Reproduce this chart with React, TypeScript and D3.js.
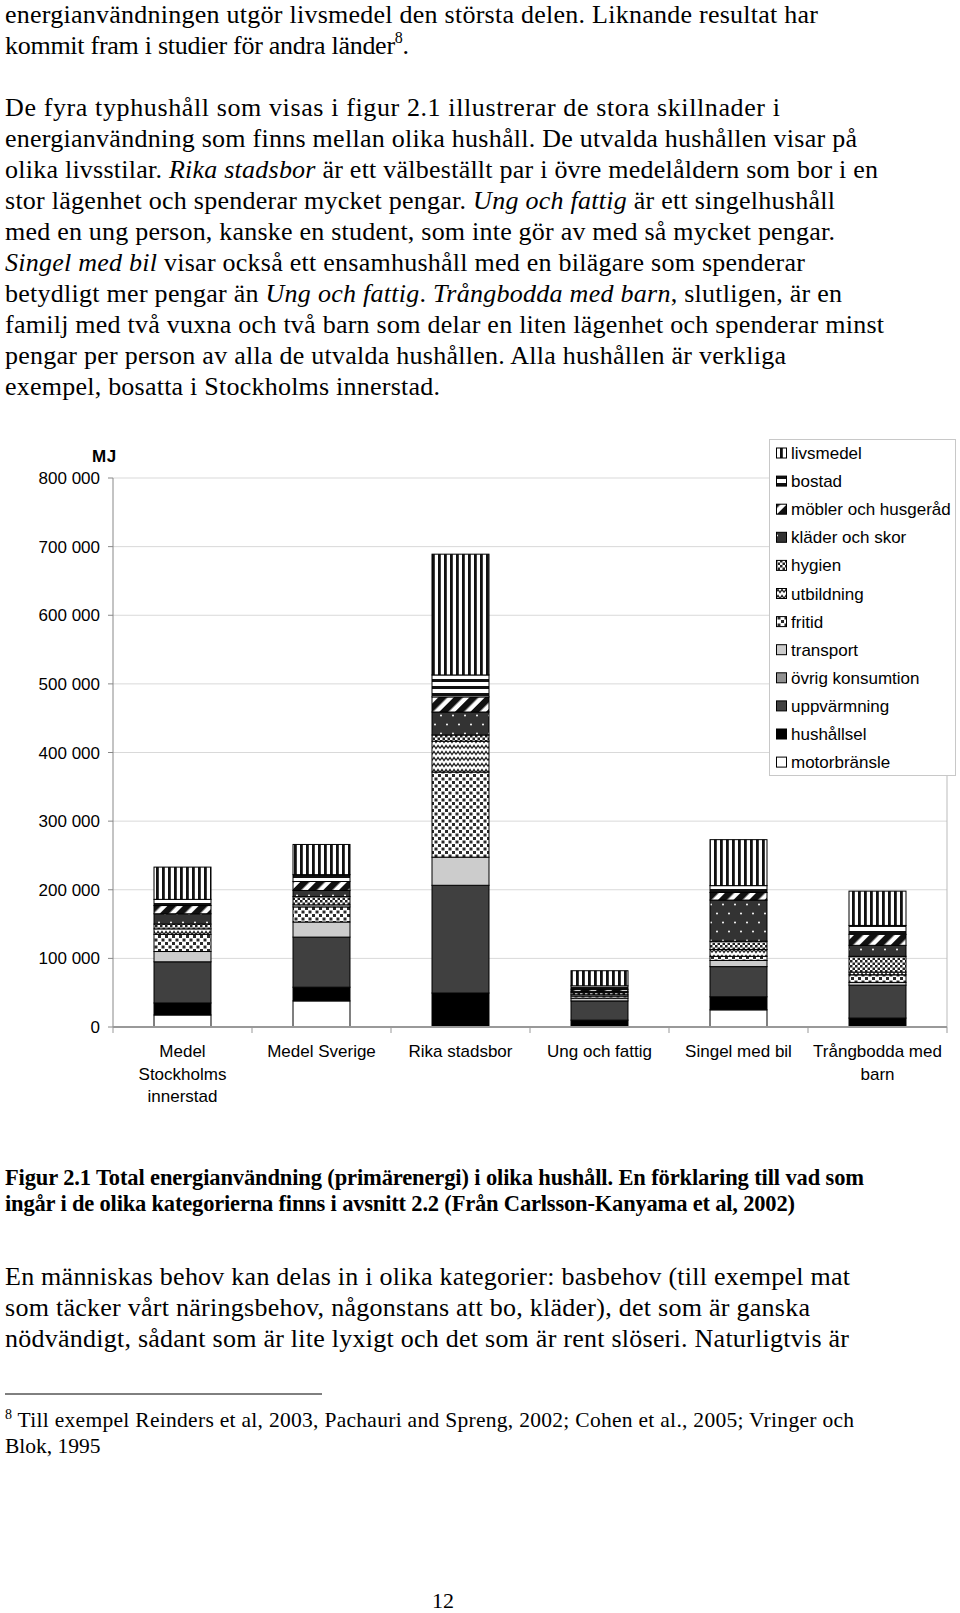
import React from "react"
import * as d3 from "d3"

// households (x categories) and their axis labels
const households = ["Medel Stockholms innerstad", "Medel Sverige", "Rika stadsbor", "Ung och fattig", "Singel med bil", "Trångbodda med barn"]
const householdLabels = [["Medel", "Stockholms", "innerstad"], ["Medel Sverige"], ["Rika stadsbor"], ["Ung och fattig"], ["Singel med bil"], ["Trångbodda med", "barn"]]

// stacking order, bottom -> top
const categories = ["motorbränsle", "hushållsel", "uppvärmning", "övrig konsumtion", "transport", "fritid", "utbildning", "hygien", "kläder och skor", "möbler och husgeråd", "bostad", "livsmedel"]

// MJ per household
const motorbransle = [17500, 38000, 0, 0, 25000, 0]
const hushallsel = [17500, 20000, 49500, 10000, 19000, 13000]
const uppvarmning = [60000, 73000, 157000, 28000, 44000, 48000]
const ovrigKonsumtion = [0, 0, 0, 0, 0, 0]
const transport = [15000, 22000, 41000, 4000, 9000, 4000]
const fritid = [25000, 22000, 124000, 3000, 6000, 11000]
const utbildning = [8000, 3000, 45000, 2000, 10000, 4000]
const hygien = [7000, 12000, 9000, 3000, 12000, 23000]
const kladerOchSkor = [15000, 9000, 33500, 2000, 60000, 16000]
const moblerOchHusgerad = [12000, 13000, 22000, 3000, 11000, 16000]
const bostad = [9000, 10000, 32000, 5000, 10000, 13000]
const livsmedel = [47000, 44000, 176000, 22000, 67000, 50000]

const yTicks = [0, 100000, 200000, 300000, 400000, 500000, 600000, 700000, 800000]

const seriesValues = [motorbransle, hushallsel, uppvarmning, ovrigKonsumtion, transport, fritid, utbildning, hygien, kladerOchSkor, moblerOchHusgerad, bostad, livsmedel]

const fills = {
  "motorbränsle": "#ffffff",
  "hushållsel": "#000000",
  "uppvärmning": "#404040",
  "övrig konsumtion": "#909090",
  "transport": "#cccccc",
  "fritid": "url(#p-fritid)",
  "utbildning": "url(#p-utb)",
  "hygien": "url(#p-hyg)",
  "kläder och skor": "url(#p-klad)",
  "möbler och husgeråd": "url(#p-mob)",
  "bostad": "url(#p-bost)",
  "livsmedel": "url(#p-livs)",
}

// page text, _..._ marks italics
const bodyLines = [
  ["energianvändningen utgör livsmedel den största delen. Liknande resultat har", 818],
  null,
  null,
  ["De fyra typhushåll som visas i figur 2.1 illustrerar de stora skillnader i", 780],
  ["energianvändning som finns mellan olika hushåll. De utvalda hushållen visar på", 857],
  ["olika livsstilar. _Rika stadsbor_ är ett välbeställt par i övre medelåldern som bor i en", 878],
  ["stor lägenhet och spenderar mycket pengar. _Ung och fattig_ är ett singelhushåll", 835],
  ["med en ung person, kanske en student, som inte gör av med så mycket pengar.", 835],
  ["_Singel med bil_ visar också ett ensamhushåll med en bilägare som spenderar", 805],
  ["betydligt mer pengar än _Ung och fattig_. _Trångbodda med barn_, slutligen, är en", 842],
  ["familj med två vuxna och två barn som delar en liten lägenhet och spenderar minst", 884],
  ["pengar per person av alla de utvalda hushållen. Alla hushållen är verkliga", 786],
  ["exempel, bosatta i Stockholms innerstad.", 440],
]
const captionLines = [
  ["Figur 2.1 Total energianvändning (primärenergi) i olika hushåll. En förklaring till vad som", 864],
  ["ingår i de olika kategorierna finns i avsnitt 2.2 (Från Carlsson-Kanyama et al, 2002)", 795],
]
const paraLines = [
  ["En människas behov kan delas in i olika kategorier: basbehov (till exempel mat", 850],
  ["som täcker vårt näringsbehov, någonstans att bo, kläder), det som är ganska", 810],
  ["nödvändigt, sådant som är lite lyxigt och det som är rent slöseri. Naturligtvis är", 849],
]

const margin = { left: 113, right: 947, top: 478, bottom: 1027 }

function Styled({ text }) {
  const parts = text.split("_")
  return parts.map((p, i) => (
    <tspan key={i} fontStyle={i % 2 === 1 ? "italic" : "normal"}>{p}</tspan>
  ))
}

export default function App() {
  const rows = households.map((h, i) => {
    const r = { household: h }
    categories.forEach((c, k) => { r[c] = seriesValues[k][i] })
    return r
  })
  const stacked = d3.stack().keys(categories)(rows)

  const x = d3.scaleBand()
    .domain(households)
    .range([margin.left, margin.right])
    .paddingInner(0.59)
    .paddingOuter(0.295)
  const y = d3.scaleLinear().domain([0, 800000]).range([margin.bottom, margin.top])
  const step = x.step()
  const fmt = (v) => d3.format(",")(v).replace(/,/g, " ")

  const serif = "'Liberation Serif', 'Times New Roman', serif"
  const sans = "'Liberation Sans', Arial, sans-serif"

  return (
    <svg width={960} height={1613} style={{ position: "absolute", left: 0, top: 0, background: "#fff" }}>
      <defs>
        <pattern id="p-livs" width={6} height={6} patternUnits="userSpaceOnUse">
          <rect width={6} height={6} fill="#fff" />
          <rect width={2.8} height={6} fill="#111" />
        </pattern>
        <pattern id="p-bost" width={6} height={7} patternUnits="userSpaceOnUse">
          <rect width={6} height={7} fill="#fff" />
          <rect width={6} height={3} fill="#111" />
        </pattern>
        <pattern id="p-mob" width={11} height={11} patternUnits="userSpaceOnUse" patternTransform="rotate(45)">
          <rect width={11} height={11} fill="#fff" />
          <rect width={6.5} height={11} fill="#111" />
        </pattern>
        <pattern id="p-klad" width={12} height={18} patternUnits="userSpaceOnUse">
          <rect width={12} height={18} fill="#333" />
          <circle cx={3} cy={4.5} r={1} fill="#fff" />
          <circle cx={9} cy={13.5} r={1} fill="#fff" />
        </pattern>
        <pattern id="p-hyg" width={5} height={5} patternUnits="userSpaceOnUse">
          <rect width={5} height={5} fill="#fff" />
          <rect width={2.5} height={2.5} fill="#222" />
          <rect x={2.5} y={2.5} width={2.5} height={2.5} fill="#222" />
        </pattern>
        <pattern id="p-utb" width={8} height={6} patternUnits="userSpaceOnUse">
          <rect width={8} height={6} fill="#fff" />
          <path d="M0,4.5 L2,1.5 L4,4.5 L6,1.5 L8,4.5" stroke="#222" strokeWidth={1.3} fill="none" />
        </pattern>
        <pattern id="p-fritid" width={7} height={7} patternUnits="userSpaceOnUse">
          <rect width={7} height={7} fill="#fff" />
          <rect x={0.5} y={0.5} width={3} height={3} fill="#2a2a2a" />
          <rect x={4} y={4} width={3} height={3} fill="#2a2a2a" />
        </pattern>
      </defs>

      {/* page text */}
      <g fontFamily={serif} fontSize={26} fill="#000">
        {bodyLines.map((l, i) => {
          const yy = 23 + i * 31
          if (i === 1) {
            return (
              <text key={i} x={5} y={yy} textLength={404} lengthAdjust="spacing">
                kommit fram i studier för andra länder<tspan fontSize={16} dy={-11}>8</tspan><tspan dy={11}>.</tspan>
              </text>
            )
          }
          if (!l) return null
          return (
            <text key={i} x={5} y={yy} textLength={l[1] - 5} lengthAdjust="spacing">
              <Styled text={l[0]} />
            </text>
          )
        })}
        {captionLines.map((l, i) => (
          <text key={"c" + i} x={5} y={1185 + i * 26} fontSize={22.5} fontWeight="bold" textLength={l[1] - 5} lengthAdjust="spacing">{l[0]}</text>
        ))}
        {paraLines.map((l, i) => (
          <text key={"p" + i} x={5} y={1285 + i * 31} textLength={l[1] - 5} lengthAdjust="spacing">{l[0]}</text>
        ))}
        <line x1={5} x2={322} y1={1394} y2={1394} stroke="#000" strokeWidth={1} />
        <text x={5} y={1427} fontSize={21.5} textLength={849} lengthAdjust="spacing">
          <tspan fontSize={14} dy={-8}>8</tspan><tspan dy={8}> Till exempel Reinders et al, 2003, Pachauri and Spreng, 2002; Cohen et al., 2005; Vringer och</tspan>
        </text>
        <text x={5} y={1453} fontSize={21.5}>Blok, 1995</text>
        <text x={443} y={1608} fontSize={22} textAnchor="middle">12</text>
      </g>

      {/* chart */}
      <g fontFamily={sans} fontSize={17} fill="#000">
        {yTicks.filter(t => t > 0).map(t => (
          <line key={t} x1={margin.left} x2={margin.right} y1={y(t)} y2={y(t)} stroke="#d9d9d9" />
        ))}
        <line x1={margin.right} x2={margin.right} y1={margin.top} y2={margin.bottom} stroke="#bbb" />
        <line x1={margin.left} x2={margin.left} y1={margin.top} y2={margin.bottom} stroke="#888" />
        {yTicks.map(t => (
          <g key={t}>
            <line x1={margin.left - 5} x2={margin.left} y1={y(t)} y2={y(t)} stroke="#888" />
            <text x={100} y={y(t) + 6} textAnchor="end">{fmt(t)}</text>
          </g>
        ))}
        <text x={92} y={462} fontWeight="bold" letterSpacing={0.5}>MJ</text>

        {stacked.map(s => (
          <g key={s.key}>
            {s.map((d, i) => {
              if (d[1] - d[0] <= 0) return null
              return (
                <rect key={i} x={x(households[i])} y={y(d[1])} width={x.bandwidth()} height={y(d[0]) - y(d[1])}
                  fill={fills[s.key]} stroke="#000" strokeWidth={1} />
              )
            })}
          </g>
        ))}

        <line x1={margin.left} x2={margin.right} y1={margin.bottom} y2={margin.bottom} stroke="#999" strokeWidth={2} />
        {households.map((h, i) => {
          const left = x(h) + x.bandwidth() / 2 - step / 2
          return <line key={"t" + i} x1={left} x2={left} y1={margin.bottom} y2={margin.bottom + 6} stroke="#999" />
        })}
        <line x1={margin.right} x2={margin.right} y1={margin.bottom} y2={margin.bottom + 6} stroke="#999" />
        {households.map((h, i) => (
          <text key={"l" + i} x={x(h) + x.bandwidth() / 2} textAnchor="middle">
            {householdLabels[i].map((s, k) => (
              <tspan key={k} x={x(h) + x.bandwidth() / 2} y={1057 + k * 22.5}>{s}</tspan>
            ))}
          </text>
        ))}

        {/* legend */}
        <rect x={769.5} y={439.5} width={186} height={336} fill="#fff" stroke="#c8c8c8" />
        {categories.slice().reverse().map((c, i) => {
          const cy = 453 + i * 28.1
          return (
            <g key={c}>
              <rect x={776.5} y={cy - 5} width={10} height={10} fill={fills[c]} stroke="#000" />
              <text x={791} y={cy + 6}>{c}</text>
            </g>
          )
        })}
      </g>
    </svg>
  )
}
